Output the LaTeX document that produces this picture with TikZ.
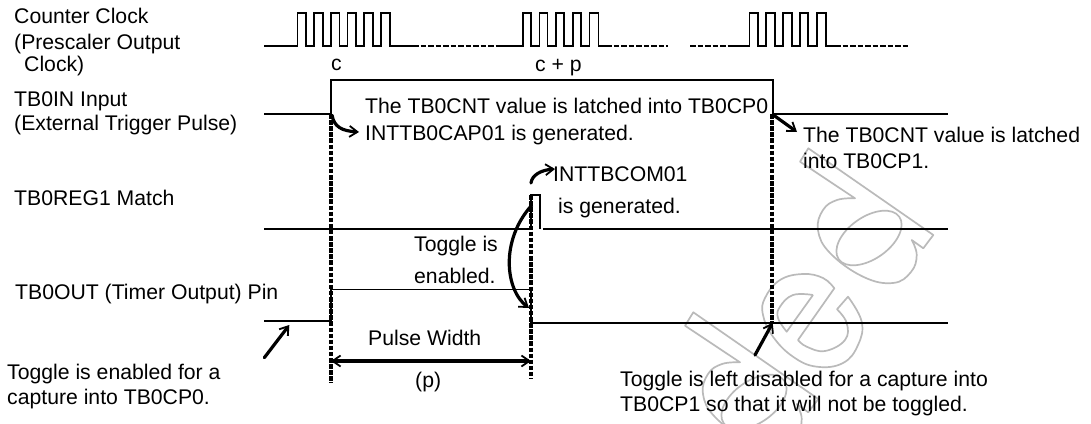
\documentclass[tikz,border=0pt]{standalone}
\usepackage{fontspec}
\setmainfont{Liberation Sans}
\usetikzlibrary{arrows.meta}
\tikzset{
 x=1pt,y=-1pt,
 wave/.style={line width=1.6pt,line join=miter},
 dashw/.style={line width=2.6pt,dash pattern=on 5.5pt off 2pt},
 guide/.style={line width=3.2pt,dash pattern=on 4.5pt off 1.6pt},
 barb/.tip={Straight Barb[length=8pt,width=11pt,line width=1.8pt]},
 pointer/.style={line width=3.2pt,-barb},
 lbl/.style={anchor=base west,inner sep=0pt,font=\fontsize{21.2}{24}\selectfont,text=black},
 wm/.style={draw=black!27,line width=1.7pt,line join=round}
}
\begin{document}
\begin{tikzpicture}
\useasboundingbox (0,0) rectangle (1091,423);
% watermark
\begin{scope}
\clip (0,0) rectangle (1091,423);
\draw[wm] (800,161.7) -- (808.3,148.3) -- (933.3,235) -- (923.3,248.3) -- (911.7,240)
  -- plot[smooth,tension=.7] coordinates {(911.7,240) (916.7,255) (911,272) (893,283) (863,276.7) (830,253) (818,230) (823,210) (837,200) (855,198.3)} -- cycle;
\draw[wm,rotate around={35:(869,238)}] (869,238) ellipse [x radius=37,y radius=21];
\draw[wm] plot[smooth,tension=.7] coordinates {(834.3,288.3) (823,278) (803,274) (780,280) (765,298) (763,315) (773,336.7) (793,356.7) (816.7,366.7) (843,363) (858,345) (861.7,321.7) (848,296.7)}
  -- (837,309.3) -- plot[smooth,tension=.7] coordinates {(837,309.3) (846.7,323) (845,340) (825,351) (806.7,346.7) (798,340)} -- cycle;
\draw[wm] (813,295) -- (786.7,331.7) -- plot[smooth,tension=.7] coordinates {(786.7,331.7) (778,318) (780,306.7) (793,295) (813,295)};
\draw[wm] (685,325.7) -- (693.3,312.3) -- (818.3,399) -- (808.3,412.3) -- (796.7,404)
  -- plot[smooth,tension=.7] coordinates {(796.7,404) (801.7,419) (796,436) (778,447) (748,440.7) (715,417) (703,394) (708,374) (722,364) (740,362.3)} -- cycle;
\draw[wm,rotate around={35:(754,402)}] (754,402) ellipse [x radius=37,y radius=21];
\end{scope}
\coordinate (g1t) at (331,114); \coordinate (g1b) at (331,383);
\coordinate (g2t) at (531,195); \coordinate (g2b) at (531,379);
\coordinate (g3t) at (772,114); \coordinate (g3b) at (772,322);
% clock
\draw[wave] (264,46) -- (297.3,46) -- (297.3,13) -- (306,13) -- (306,46) -- (314,46) -- (314,13) -- (322.7,13) -- (322.7,46) -- (330.7,46) -- (330.7,13) -- (339.3,13) -- (339.3,46) -- (347.3,46) -- (347.3,13) -- (356,13) -- (356,46) -- (364,46) -- (364,13) -- (372.7,13) -- (372.7,46) -- (380.7,46) -- (380.7,13) -- (390,13) -- (390,46) -- (413,46);
\draw[dashw] (413,46) -- (498,46);
\draw[wave] (498,46) -- (522.7,46) -- (522.7,13) -- (530.7,13) -- (530.7,46) -- (539.3,46) -- (539.3,13) -- (547.3,13) -- (547.3,46) -- (556,46) -- (556,13) -- (564,13) -- (564,46) -- (572.7,46) -- (572.7,13) -- (580.7,13) -- (580.7,46) -- (589.3,46) -- (589.3,13) -- (598.3,13) -- (598.3,46) -- (606,46);
\draw[dashw] (606,46) -- (668,46);
\draw[dashw] (690,46) -- (728,46);
\draw[wave] (728,46) -- (749.3,46) -- (749.3,13) -- (757.7,13) -- (757.7,46) -- (766,46) -- (766,13) -- (775,13) -- (775,46) -- (782.7,46) -- (782.7,13) -- (791.7,13) -- (791.7,46) -- (800,46) -- (800,13) -- (808,13) -- (808,46) -- (816.7,46) -- (816.7,13) -- (825.7,13) -- (825.7,46) -- (835,46);
\draw[dashw] (835,46) -- (908,46);
% TB0IN
\draw[wave] (264,114) -- (331,114) -- (331,80) -- (772.7,80) -- (772.7,114) -- (948,114);
% TB0REG1
\draw[wave] (264,229) -- (531,229) -- (531,195) -- (540,195) -- (540,229);
\draw[wave] (543,229) -- (948,229);
% TB0OUT
\draw[wave] (264,321) -- (331,321) -- (331,289.5) -- (531,289.5) -- (531,323) -- (948,323);
% guides
\draw[guide] (g1t) -- (g1b);
\draw[guide] (g2t) -- (g2b);
\draw[guide] (g3t) -- (g3b);
% arrows
\draw[pointer] (332,115) .. controls (334,127) and (342,131) .. (359,132);
\draw[pointer] (772,114) -- (797,132);
\draw[pointer,line cap=round] (531,183) .. controls (532,175) and (541,170) .. (555,169);
\draw[pointer] (532,205) .. controls (500,240) and (505,290) .. (529,308);
\draw[pointer,line cap=round] (264.3,357.7) -- (289.3,325);
\draw[pointer,line cap=round] (755,355) -- (772.7,322.7);
\draw[line width=3.2pt,barb-barb] (g1b|-0,361) -- (g2b|-0,361);
% labels
\node[lbl] (l1a) at (14,23.3) {Counter Clock};
\node[lbl] (l1b) at (14,49) {(Prescaler Output};
\node[lbl] (l1c) at (24,71.7) {Clock)};
\node[lbl] (l2a) at (14,106) {TB0IN Input};
\node[lbl] (l2b) at (14,130) {(External Trigger Pulse)};
\node[lbl] (l3) at (14,205.7) {TB0REG1 Match};
\node[lbl] (l4) at (15,299.3) {TB0OUT (Timer Output) Pin};
\node[lbl] (l5a) at (7,379) {Toggle is enabled for a};
\node[lbl] (l5b) at (7,404.3) {capture into TB0CP0.};
\node[lbl] (c1) at (331,70) {c};
\node[lbl] (c2) at (535,71.7) {c + p};
\node[lbl] (t1) at (365,113.3) {The TB0CNT value is latched into TB0CP0};
\node[lbl] (t2) at (365,140) {INTTB0CAP01 is generated.};
\node[lbl] (t3) at (803,142.7) {The TB0CNT value is latched};
\node[lbl] (t4) at (803,168.3) {into TB0CP1.};
\node[lbl] (t5) at (553,181.7) {INTTBCOM01};
\node[lbl] (t6) at (558,213.3) {is generated.};
\node[lbl] (t7) at (414,251.7) {Toggle is};
\node[lbl] (t8) at (414,283.3) {enabled.};
\node[lbl] (t9) at (368,345) {Pulse Width};
\node[lbl] (t10) at (415,387) {(p)};
\node[lbl] (t11) at (620,386.7) {Toggle is left disabled for a capture into};
\node[lbl] (t12) at (620,411.7) {TB0CP1 so that it will not be toggled.};
\end{tikzpicture}
\end{document}
